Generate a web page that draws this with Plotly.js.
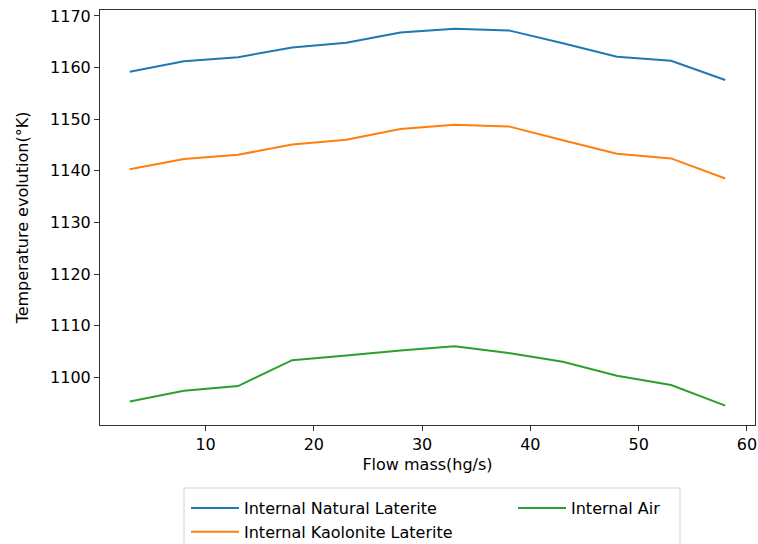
<!DOCTYPE html>
<html>
<head>
<meta charset="utf-8">
<script src="https://cdn.plot.ly/plotly-3.0.1.min.js"></script>
<style>html,body{margin:0;padding:0;background:#fff;}#chart{width:758px;height:544px;}</style>
</head>
<body>
<div id="chart"></div>
<script>
const flowMass = [3, 8, 13, 18, 23, 28, 33, 38, 43, 48, 53, 58];
const naturalLaterite = [1159.2, 1161.2, 1162.0, 1163.9, 1164.8, 1166.8, 1167.5, 1167.2, 1164.7, 1162.1, 1161.3, 1157.6];
const kaoloniteLaterite = [1140.3, 1142.3, 1143.1, 1145.1, 1146.0, 1148.1, 1148.9, 1148.6, 1145.9, 1143.3, 1142.4, 1138.5];
const internalAir = [1095.3, 1097.4, 1098.3, 1103.3, 1104.2, 1105.2, 1106.0, 1104.7, 1103.0, 1100.3, 1098.5, 1094.5];
const seriesNames = ["Internal Natural Laterite", "Internal Kaolonite Laterite", "Internal Air"];
const yTicks = [1100, 1110, 1120, 1130, 1140, 1150, 1160, 1170];
const xTicks = [10, 20, 30, 40, 50, 60];

const font = {family: "DejaVu Sans, sans-serif", size: 16, color: "#000"};
const traces = [
  {x: flowMass, y: naturalLaterite, name: seriesNames[0], legend: "legend", line: {color: "#1f77b4", width: 2}},
  {x: flowMass, y: kaoloniteLaterite, name: seriesNames[1], legend: "legend", line: {color: "#ff7f0e", width: 2}},
  {x: flowMass, y: internalAir, name: seriesNames[2], legend: "legend2", line: {color: "#2ca02c", width: 2}}
].map(t => Object.assign({type: "scatter", mode: "lines"}, t));

const axisCommon = {
  showgrid: false, zeroline: false, showline: true, mirror: true,
  linecolor: "#333", linewidth: 1, ticks: "outside", ticklen: 5, tickwidth: 1,
  tickcolor: "#333", tickfont: font
};

// plot area: x 100..755 px, y 10..425 px
const px2x = p => (p - 100) / 655;
const px2y = p => (425 - p) / 415;

const legendCommon = {
  orientation: "v", xanchor: "left", yanchor: "top", itemwidth: 48,
  borderwidth: 0, bgcolor: "rgba(0,0,0,0)", font: font, tracegroupgap: 0
};

const layout = {
  width: 758, height: 544,
  margin: {l: 100, r: 3, t: 10, b: 119, autoexpand: false},
  paper_bgcolor: "#fff", plot_bgcolor: "#fff",
  font: font,
  showlegend: true,
  xaxis: Object.assign({}, axisCommon, {
    range: [0.25, 60.75], tickvals: xTicks,
    title: {text: "Flow mass(hg/s)", font: font, standoff: 5}
  }),
  yaxis: Object.assign({}, axisCommon, {
    range: [1090.75, 1171.15], tickvals: yTicks,
    title: {text: "Temperature evolution(°K)", font: font, standoff: 17}
  }),
  legend: Object.assign({}, legendCommon, {x: px2x(186), y: px2y(491)}),
  legend2: Object.assign({}, legendCommon, {x: px2x(513), y: px2y(491)}),
  shapes: [{
    type: "rect", xref: "paper", yref: "paper",
    x0: px2x(184), x1: px2x(680), y0: px2y(488), y1: px2y(565),
    line: {color: "#d0d0d0", width: 1}, fillcolor: "rgba(0,0,0,0)", layer: "below"
  }]
};

Plotly.newPlot("chart", traces, layout, {displayModeBar: false, staticPlot: true});
</script>
</body>
</html>
